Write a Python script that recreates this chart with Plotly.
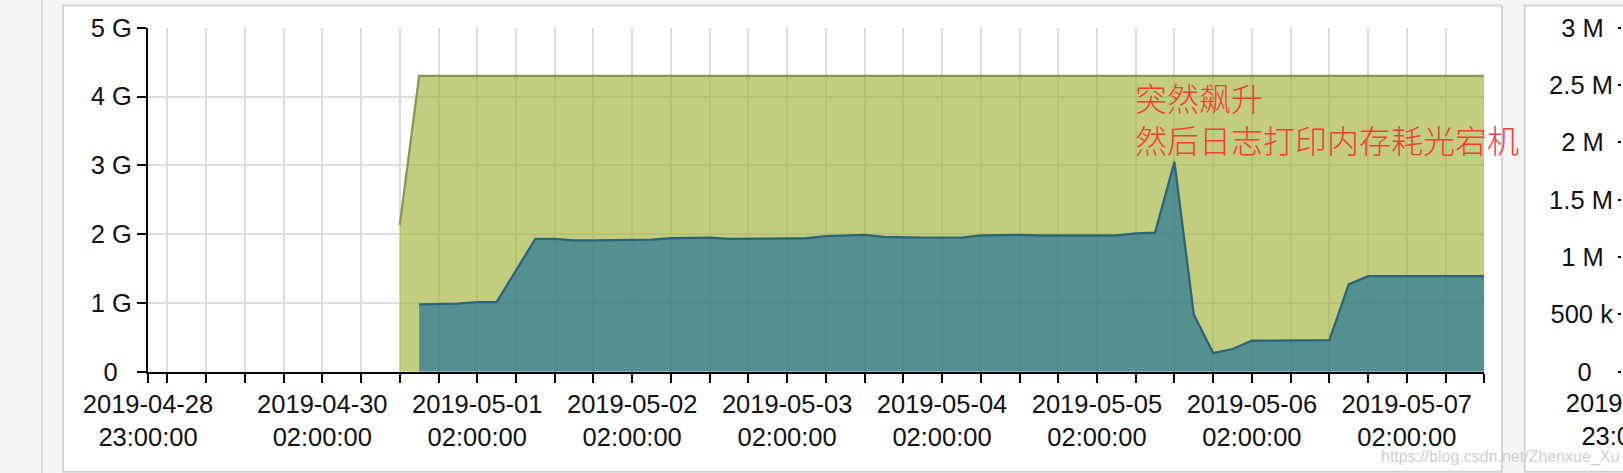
import pandas as pd
import plotly.graph_objects as go

W, H = 1623, 473

# ---------------- data ----------------
# samples every 3 hours, 2019-04-30 14:00 -> 2019-05-07 14:00
sample_times = pd.date_range("2019-04-30 14:00", "2019-05-07 14:00", freq="3h")

# total memory (G) - olive area
total_mem_g = [
    2.13, 4.30, 4.30, 4.30, 4.30, 4.30, 4.30, 4.30, 4.30, 4.30,
    4.30, 4.30, 4.30, 4.30, 4.30, 4.30, 4.30, 4.30, 4.30, 4.30,
    4.30, 4.30, 4.30, 4.30, 4.30, 4.30, 4.30, 4.30, 4.30, 4.30,
    4.30, 4.30, 4.30, 4.30, 4.30, 4.30, 4.30, 4.30, 4.30, 4.30,
    4.30, 4.30, 4.30, 4.30, 4.30, 4.30, 4.30, 4.30, 4.30, 4.30,
    4.30, 4.30, 4.30, 4.30, 4.30, 4.30, 4.30,
]

# used memory (G) - teal area
used_mem_g = [
    None, 0.98, 0.98, 0.99, 1.01, 1.01, 1.47, 1.93, 1.93, 1.91,
    1.91, 1.915, 1.915, 1.92, 1.94, 1.95, 1.95, 1.93, 1.93, 1.93,
    1.93, 1.94, 1.97, 1.98, 1.99, 1.96, 1.95, 1.95, 1.95, 1.95,
    1.98, 1.99, 1.99, 1.98, 1.98, 1.98, 1.98, 1.98, 2.01, 2.02,
    3.05, 0.83, 0.27, 0.33, 0.45, 0.45, 0.45, 0.45, 0.46, 1.27,
    1.39, 1.39, 1.39, 1.395, 1.39, 1.39, 1.39,
]

# axis ticks / labels
x_start, x_end = "2019-04-28 23:00", "2019-05-07 14:00"
x_label_times = ["2019-04-28 23:00", "2019-04-30 02:00", "2019-05-01 02:00",
                 "2019-05-02 02:00", "2019-05-03 02:00", "2019-05-04 02:00",
                 "2019-05-05 02:00", "2019-05-06 02:00", "2019-05-07 02:00"]
x_label_text = ["2019-04-28<br>23:00:00", "2019-04-30<br>02:00:00",
                "2019-05-01<br>02:00:00", "2019-05-02<br>02:00:00",
                "2019-05-03<br>02:00:00", "2019-05-04<br>02:00:00",
                "2019-05-05<br>02:00:00", "2019-05-06<br>02:00:00",
                "2019-05-07<br>02:00:00"]
y_tick_vals = [0, 1, 2, 3, 4, 5]
y_tick_text = ["0\u00a0\u00a0", "1 G", "2 G", "3 G", "4 G", "5 G"]

# right (cut-off) panel
y2_tick_vals = [0, 0.5, 1, 1.5, 2, 2.5, 3]
y2_tick_text = ["0\u00a0\u00a0\u00a0", "500 k", "1 M\u00a0\u200a", "1.5 M",
                "2 M\u00a0\u200a", "2.5 M", "3 M\u00a0\u200a"]
x2_label_times = ["2019-04-28 23:00"]
x2_label_text = ["2019-04-28<br>23:00:00"]

annot_text = "突然飙升<br>然后日志打印内存耗光宕机"
annot_time = "2019-05-05 07:32"
watermark = "https://blog.csdn.net/Zhenxue_Xu"

# ---------------- styling ----------------
FONT = "Arial, 'Liberation Sans', sans-serif"
CJK = "'Noto Sans CJK SC', sans-serif"
GRID = "#dddddd"
TICKFONT = dict(family=FONT, size=25.5, color="#111111")


def px_x(p):
    return p / W


def px_y(p):
    return 1 - p / H


fig = go.Figure()

fig.add_trace(go.Scatter(
    x=sample_times, y=total_mem_g, mode="lines", fill="tozeroy",
    line=dict(color="#87965a", width=2.3),
    fillcolor="rgba(161,180,57,0.65)", hoverinfo="skip", showlegend=False,
))
fig.add_trace(go.Scatter(
    x=sample_times, y=used_mem_g, mode="lines", fill="tozeroy",
    line=dict(color="#2e6479", width=2.3),
    fillcolor="rgba(11,103,156,0.6)", hoverinfo="skip", showlegend=False,
))

# invisible trace so the second (cut-off) panel axes exist
fig.add_trace(go.Scatter(x=[x_start], y=[0], xaxis="x2", yaxis="y2",
                         mode="markers", marker=dict(opacity=0),
                         hoverinfo="skip", showlegend=False))

x0d, x1d = px_x(148), px_x(1484.3)
y0d, y1d = px_y(371.7), px_y(27.7)

fig.update_layout(
    width=W, height=H,
    margin=dict(l=0, r=0, t=0, b=0, autoexpand=False),
    paper_bgcolor="#f5f5f5",
    plot_bgcolor="white",
    xaxis=dict(
        domain=[x0d, x1d], type="date", range=[x_start, x_end],
        tickmode="array", tickvals=x_label_times, ticktext=x_label_text,
        ticks="outside", ticklen=9, tickwidth=2, tickcolor="black",
        showline=True, linewidth=2, linecolor="black",
        showgrid=True, gridcolor=GRID, gridwidth=2,
        tickfont=TICKFONT, zeroline=False, automargin=False,
        minor=dict(tick0="2019-04-29 02:00", dtick=6 * 3600 * 1000,
                   ticks="outside", ticklen=9, tickwidth=2, tickcolor="black",
                   showgrid=True, gridcolor=GRID, gridwidth=2),
    ),
    yaxis=dict(
        domain=[y0d, y1d], range=[0, 5],
        tickmode="array", tickvals=y_tick_vals, ticktext=y_tick_text,
        ticks="outside", ticklen=9, tickwidth=2, tickcolor="black",
        showline=True, linewidth=2, linecolor="black",
        showgrid=True, gridcolor=GRID, gridwidth=2,
        tickfont=TICKFONT, zeroline=False, automargin=False,
    ),
    xaxis2=dict(
        domain=[1 - 1 / W, 1], type="date",
        range=["2019-04-28 22:59", "2019-04-29 02:00"],
        tickmode="array", tickvals=x2_label_times, ticktext=x2_label_text,
        ticks="outside", ticklen=9, tickcolor="rgba(0,0,0,0)",
        ticklabelshift=9, ticklabeloverflow="allow",
        showline=False, showgrid=False, zeroline=False,
        tickfont=TICKFONT, anchor="y2", automargin=False,
    ),
    yaxis2=dict(
        domain=[y0d, y1d], range=[0, 3], anchor="x2",
        tickmode="array", tickvals=y2_tick_vals, ticktext=y2_tick_text,
        ticks="outside", ticklen=3, tickwidth=2, tickcolor="black",
        showline=False, showgrid=False, zeroline=False,
        tickfont=TICKFONT, automargin=False, ticklabeloverflow="allow",
    ),
    shapes=[
        # left strip divider
        dict(type="line", xref="paper", yref="paper",
             x0=px_x(42), x1=px_x(42), y0=0, y1=1,
             line=dict(color="#d9d9d9", width=2), layer="below"),
        # main panel
        dict(type="rect", xref="paper", yref="paper",
             x0=px_x(63), x1=px_x(1502), y0=px_y(471.7), y1=px_y(5.5),
             fillcolor="white", line=dict(color="#d4d4d4", width=2),
             layer="below"),
        # right panel (cut off)
        dict(type="rect", xref="paper", yref="paper",
             x0=px_x(1524.7), x1=1.05, y0=px_y(471.7), y1=px_y(5.5),
             fillcolor="white", line=dict(color="#d4d4d4", width=2),
             layer="below"),
    ],
    annotations=[
        dict(text=annot_text, xref="x", yref="y", x=annot_time,
             y=(371.7 - 117.5) / 68.8,
             xanchor="left", yanchor="middle", align="left", showarrow=False,
             font=dict(family=CJK, size=32, color="#f53c3c", weight=300)),
        dict(text=watermark, xref="paper", yref="paper",
             x=px_x(1379), y=px_y(457), xanchor="left", yanchor="middle",
             showarrow=False,
             font=dict(family=FONT, size=16, color="#cfcfcf")),
    ],
)

fig.write_html(
    "out.html",
    config={"displayModeBar": False},
    post_script="document.body.style.margin='0';document.body.style.overflow='hidden';",
)
